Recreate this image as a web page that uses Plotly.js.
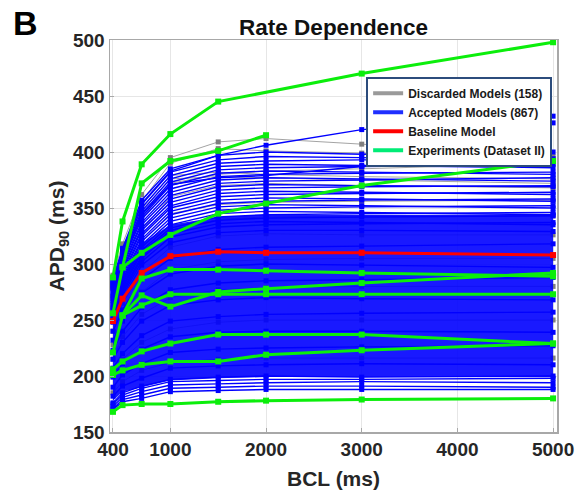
<!DOCTYPE html>
<html><head><meta charset="utf-8">
<script src="https://cdn.plot.ly/plotly-3.0.1.min.js"></script>
<style>body{margin:0;background:#fff}#chart{width:585px;height:494px}</style>
</head><body><div id="chart"></div>
<script>
// Basic cycle lengths (ms)
const bcl = [400, 500, 700, 1000, 1500, 2000, 3000, 5000];

// Baseline model APD90 (ms)
const baseline = [249, 269, 292, 307, 311, 310, 310, 308];

// Dense core of the accepted population (ms)
const bandLow  = [178, 186, 190, 196, 198, 199, 199, 199];
const bandHigh = [262, 287, 318, 335, 342, 344, 344, 344];

const accepted = [
  [170,177,180,186,187,188,188,188],
  [171,179,183,189,190,191,191,190],
  [173,181,186,192,193,194,195,194],
  [175,183,189,195,196,197,197,198],
  [176,185,191,197,199,200,199,200],
  [182,191,198,207,209,210,211,210],
  [190,201,211,221,224,225,226,227],
  [199,211,224,235,239,240,240,239],
  [207,220,236,249,253,255,256,257],
  [215,230,249,263,268,270,269,268],
  [223,240,261,277,283,285,286,288],
  [232,249,274,291,298,300,299,297],
  [240,259,286,305,313,315,316,318],
  [248,269,299,319,328,330,330,329],
  [251,272,302,324,333,335,336,337],
  [252,274,305,327,336,338,337,335],
  [254,276,307,330,339,341,342,343],
  [256,278,310,332,342,344,345,346],
  [257,280,312,335,345,347,346,344],
  [259,282,315,338,348,350,351,352],
  [261,284,317,341,351,353,352,350],
  [262,286,320,344,354,356,357,358],
  [264,288,322,347,357,359,358,356],
  [266,290,325,350,360,362,363,364],
  [267,292,327,352,363,365,364,362],
  [269,294,330,355,366,368,369,370],
  [271,296,332,358,369,371,370,369],
  [272,298,335,361,372,374,375,377],
  [274,300,337,364,375,377,376,374],
  [276,302,340,367,378,380,381,382],
  [278,304,342,370,381,383,382,380],
  [280,306,345,373,384,386,387,389],
  [281,308,347,376,387,389,388,386],
  [283,310,350,379,390,392,393,394],
  [285,312,353,382,393,396,395,392],
  [287,314,357,385,397,400,398,400],
  [284,311,354,383,397,406,420,432],
  [279,305,344,371,377,379,387,426]
];

// Discarded models (representative traces)
const discarded = [
  [290,318,362,395,409,412,407,396],
  [286,313,356,390,403,401,399,394],
  [283,310,350,379,382,380,378,376],
  [282,308,348,376,378,377,375,372],
  [278,304,340,372,380,383,385,390],
  [270,296,330,360,370,372,370,368],
  [260,288,320,345,353,355,356,357],
  [250,276,305,330,340,342,343,343],
  [240,265,292,315,325,327,326,326],
  [228,250,275,295,302,304,305,305],
  [215,235,255,270,277,279,280,280],
  [200,215,230,242,248,250,250,250],
  [185,195,205,212,215,216,216,216]
];

// Experiments (Dataset II)
const expA_bcl = [400, 500, 700, 1000, 1500, 3000, 5000];
const expA     = [288, 338, 389, 416, 445, 470, 498];
const expB_bcl = [500, 700, 1000, 1500, 2000];
const expB     = [297, 372, 392, 401, 415];
const expC_bcl = [400, 500, 700, 1000, 1500, 2000, 3000, 5000];
const expC     = [256, 297, 310, 326, 345, 354, 370, 392];
const expD_bcl = [500, 700, 1000, 1500, 2000, 3000, 5000];
const expD     = [254, 287, 295, 295, 294, 292, 289];
const expE_bcl = [400, 500, 700, 1000, 1500, 2000, 3000, 5000];
const expE     = [221, 254, 272, 262, 275, 278, 283, 292];
const expF_bcl = [500, 700, 1000, 1500, 2000, 3000, 5000];
const expF     = [254, 263, 273, 273, 273, 273, 273];
const expG_bcl = [400, 500, 700, 1000, 1500, 2000, 3000, 5000];
const expG     = [206, 213, 222, 229, 237, 237, 237, 229];
const expH_bcl = [400, 500, 700, 1000, 1500, 2000, 3000, 5000];
const expH     = [201, 205, 210, 213, 213, 219, 223, 229];
const expI_bcl = [400, 500, 700, 1000, 1500, 2000, 3000, 5000];
const expI     = [168, 174, 175, 175, 177, 178, 179, 180];

const xTicks = [400, 1000, 2000, 3000, 4000, 5000];
const yTicks = [150, 200, 250, 300, 350, 400, 450, 500];

const legendNames = ['Discarded Models (158)', 'Accepted Models (867)', 'Baseline Model', 'Experiments (Dataset II)'];
const legendColors = ['#9a9a9a', '#1f2fff', '#ff0000', '#00ec76'];

const GREEN = '#0bee0b';
const traces = [];

legendNames.forEach((n, i) => traces.push({
  x: [null], y: [null], type: 'scatter', mode: 'lines', name: n,
  line: {color: legendColors[i], width: 4}, hoverinfo: 'skip'
}));

discarded.forEach(v => traces.push({
  x: bcl, y: v, type: 'scatter', mode: 'lines+markers', showlegend: false,
  line: {color: '#8c8c8c', width: 0.8},
  marker: {symbol: 'square', size: 5, color: '#7f7f7f'}, hoverinfo: 'skip'
}));

traces.push({x: bcl, y: bandLow, type: 'scatter', mode: 'lines', showlegend: false,
  line: {width: 0, color: 'rgba(0,0,255,0)'}, hoverinfo: 'skip'});
traces.push({x: bcl, y: bandHigh, type: 'scatter', mode: 'lines', showlegend: false,
  fill: 'tonexty', fillcolor: 'rgba(0,0,255,0.9)',
  line: {width: 0, color: 'rgba(0,0,255,0)'}, hoverinfo: 'skip'});

accepted.forEach(v => traces.push({
  x: bcl, y: v, type: 'scatter', mode: 'lines+markers', showlegend: false,
  line: {color: '#0000ff', width: 1.4},
  marker: {symbol: 'square', size: 5, color: '#0000ff'}, hoverinfo: 'skip'
}));

traces.push({
  x: bcl, y: baseline, type: 'scatter', mode: 'lines+markers', showlegend: false,
  line: {color: '#ff0000', width: 3},
  marker: {symbol: 'square', size: 6, color: '#ff0000'}
});

[[expA_bcl, expA], [expB_bcl, expB], [expC_bcl, expC], [expD_bcl, expD], [expE_bcl, expE],
 [expF_bcl, expF], [expG_bcl, expG], [expH_bcl, expH], [expI_bcl, expI]].forEach(p => traces.push({
  x: p[0], y: p[1], type: 'scatter', mode: 'lines+markers', showlegend: false,
  line: {color: GREEN, width: 3},
  marker: {symbol: 'square', size: 6, color: GREEN}
}));

const FAM = 'Liberation Sans, Arial, sans-serif';
const axisFont = {family: FAM, size: 19, color: '#262626', weight: 'bold'};

const layout = {
  width: 585, height: 494,
  margin: {l: 110, r: 28, t: 40, b: 62},
  paper_bgcolor: '#ffffff', plot_bgcolor: '#ffffff',
  showlegend: true,
  title: {text: 'Rate Dependence', font: {family: FAM, size: 22.5, weight: 'bold', color: '#111111'},
          xref: 'paper', x: 0.5, xanchor: 'center', yref: 'container', y: 0.945, yanchor: 'middle'},
  xaxis: {
    range: [369, 5041], tickvals: xTicks, ticktext: xTicks.map(String),
    tickfont: axisFont, showgrid: true, gridcolor: '#e6e6e6', gridwidth: 1,
    showline: true, linecolor: '#a8a8a8', linewidth: 1.5, mirror: true,
    ticks: 'inside', ticklen: 4, tickcolor: '#a8a8a8', zeroline: false,
    title: {text: 'BCL (ms)', font: {family: FAM, size: 21, weight: 'bold', color: '#262626'}, standoff: 12}
  },
  yaxis: {
    range: [150, 500], tickvals: yTicks, ticktext: yTicks.map(String),
    tickfont: axisFont, showgrid: true, gridcolor: '#e6e6e6', gridwidth: 1,
    showline: true, linecolor: '#a8a8a8', linewidth: 1.5, mirror: true,
    ticks: 'inside', ticklen: 4, tickcolor: '#a8a8a8', zeroline: false,
    title: {text: 'APD<sub>90</sub> (ms)', font: {family: FAM, size: 21, weight: 'bold', color: '#262626'}, standoff: 2}
  },
  legend: {
    x: 0.573, y: 0.906, xanchor: 'left', yanchor: 'top', traceorder: 'normal',
    bgcolor: '#ffffff', bordercolor: '#2c4c7c', borderwidth: 2,
    font: {family: FAM, size: 12, weight: 'bold', color: '#1a1a1a'},
    itemwidth: 30, tracegroupgap: 0
  },
  annotations: [{
    text: 'B', xref: 'paper', yref: 'paper', x: -0.19, y: 1.043, xanchor: 'center', yanchor: 'middle',
    showarrow: false, font: {family: FAM, size: 34, weight: 'bold', color: '#000000'}
  }]
};

Plotly.newPlot('chart', traces, layout, {displayModeBar: false, staticPlot: true});
</script>
</body></html>
